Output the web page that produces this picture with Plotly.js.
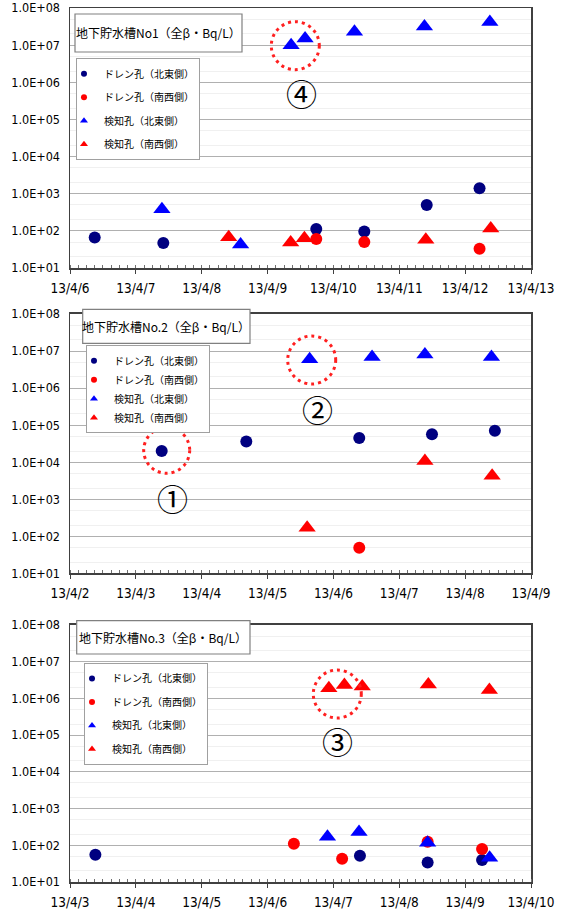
<!DOCTYPE html>
<html><head><meta charset="utf-8">
<script src="https://cdn.plot.ly/plotly-3.0.1.min.js"></script>
<style>html,body{margin:0;padding:0;background:#fff}</style>
</head><body><div id="chart" style="width:567px;height:910px"></div>
<script>
// ---- data ----
const seriesNames = ['ドレン孔（北東側）', 'ドレン孔（南西側）', '検知孔（北東側）', '検知孔（南西側）'];
const panelTitles = ['地下貯水槽No1（全β・Bq/L）', '地下貯水槽No.2（全β・Bq/L）', '地下貯水槽No.3（全β・Bq/L）'];
const yTickVals = [1e1, 1e2, 1e3, 1e4, 1e5, 1e6, 1e7, 1e8];
const yTickText = ['1.0E+01', '1.0E+02', '1.0E+03', '1.0E+04', '1.0E+05', '1.0E+06', '1.0E+07', '1.0E+08'];
const xRanges = [['2013-04-06', '2013-04-13'], ['2013-04-02', '2013-04-09'], ['2013-04-03', '2013-04-10']];

// Tank No1
const t1DrainNE_x = ['2013-04-06 09:00', '2013-04-07 10:00', '2013-04-09 17:45', '2013-04-10 11:15', '2013-04-11 10:00', '2013-04-12 05:15'];
const t1DrainNE_y = [66, 47, 113, 96, 500, 1400];
const t1DrainSW_x = ['2013-04-09 17:45', '2013-04-10 11:15', '2013-04-12 05:15'];
const t1DrainSW_y = [60, 50, 33];
const t1DetNE_x = ['2013-04-07 09:30', '2013-04-08 14:10', '2013-04-09 08:35', '2013-04-09 13:40', '2013-04-10 07:40', '2013-04-11 09:10', '2013-04-12 09:00'];
const t1DetNE_y = [380, 43, 1.0e7, 1.5e7, 2.3e7, 3.2e7, 4.2e7];
const t1DetSW_x = ['2013-04-08 09:50', '2013-04-09 08:25', '2013-04-09 13:25', '2013-04-11 09:40', '2013-04-12 09:20'];
const t1DetSW_y = [67, 49, 63, 58, 115];

// Tank No.2
const t2DrainNE_x = ['2013-04-03 09:25', '2013-04-04 16:15', '2013-04-06 09:25', '2013-04-07 11:55', '2013-04-08 10:50'];
const t2DrainNE_y = [2.0e4, 3.6e4, 4.5e4, 5.7e4, 7.1e4];
const t2DrainSW_x = ['2013-04-06 09:25'];
const t2DrainSW_y = [49];
const t2DetNE_x = ['2013-04-05 15:20', '2013-04-06 14:05', '2013-04-07 09:20', '2013-04-08 09:35'];
const t2DetNE_y = [6.0e6, 6.9e6, 8.1e6, 6.9e6];
const t2DetSW_x = ['2013-04-05 14:25', '2013-04-07 09:20', '2013-04-08 09:50'];
const t2DetSW_y = [170, 1.07e4, 4.3e3];

// Tank No.3
const t3DrainNE_x = ['2013-04-03 09:15', '2013-04-07 09:40', '2013-04-08 10:20', '2013-04-09 06:10'];
const t3DrainNE_y = [55, 52, 34, 40];
const t3DrainSW_x = ['2013-04-06 09:35', '2013-04-07 03:10', '2013-04-08 10:20', '2013-04-09 06:10'];
const t3DrainSW_y = [110, 43, 125, 79];
const t3DetNE_x = ['2013-04-06 21:50', '2013-04-07 09:20', '2013-04-08 10:20', '2013-04-09 08:55'];
const t3DetNE_y = [170, 230, 117, 46];
const t3DetSW_x = ['2013-04-06 22:20', '2013-04-07 04:00', '2013-04-07 10:30', '2013-04-08 10:35', '2013-04-09 08:50'];
const t3DetSW_y = [1.9e6, 2.3e6, 2.1e6, 2.4e6, 1.7e6];

// ---- build ----
const panels = [
  [[t1DrainNE_x, t1DrainNE_y], [t1DrainSW_x, t1DrainSW_y], [t1DetNE_x, t1DetNE_y], [t1DetSW_x, t1DetSW_y]],
  [[t2DrainNE_x, t2DrainNE_y], [t2DrainSW_x, t2DrainSW_y], [t2DetNE_x, t2DetNE_y], [t2DetSW_x, t2DetSW_y]],
  [[t3DrainNE_x, t3DrainNE_y], [t3DrainSW_x, t3DrainSW_y], [t3DetNE_x, t3DetNE_y], [t3DetSW_x, t3DetSW_y]]
];
const symbols = ['circle', 'circle', 'triangle-up', 'triangle-up'];
const colors = ['#000080', '#ff0000', '#0000ff', '#ff0000'];
const sizes = [12, 12, 15, 15];
const legendSizes = [6, 6, 7, 7];
const legendIds = ['legend', 'legend2', 'legend3'];

const traces = [];
panels.forEach((panel, p) => {
  const xa = p === 0 ? 'x' : 'x' + (p + 1);
  const ya = p === 0 ? 'y' : 'y' + (p + 1);
  panel.forEach((s, i) => {
    const grp = 'p' + p + 's' + i;
    traces.push({
      type: 'scatter', mode: 'markers', x: [null], y: [null], xaxis: xa, yaxis: ya,
      name: seriesNames[i], legend: legendIds[p], legendgroup: grp, showlegend: true,
      marker: {symbol: symbols[i], color: colors[i], size: legendSizes[i]}, hoverinfo: 'skip'
    });
    traces.push({
      type: 'scatter', mode: 'markers', x: s[0], y: s[1], xaxis: xa, yaxis: ya,
      name: seriesNames[i], legendgroup: grp, showlegend: false,
      marker: {symbol: symbols[i], color: colors[i], size: sizes[i], line: {width: 0}}
    });
  });
});

const narrow = 'Liberation Sans Narrow, DejaVu Sans Condensed, Liberation Sans, sans-serif';
const tickFont = {family: narrow, size: 12.5, color: '#000'};
const xFont = {family: narrow, size: 13.5, color: '#000'};
const jpFont = 'Noto Sans CJK JP, Noto Sans, sans-serif';

// figure geometry (pixels) -> paper fractions for decorations
const M = {l: 70, r: 36, t: 8, b: 28};
const plotW = 567 - M.l - M.r, plotH = 910 - M.t - M.b;
const px = v => (v - M.l) / plotW;
const py = v => (910 - M.b - v) / plotH;

const domains = [[0.7025, 1.0], [0.3532, 0.6499], [0.0, 0.2941]];
const layout = {
  width: 567, height: 910, margin: M,
  paper_bgcolor: '#fff', plot_bgcolor: '#fff',
  showlegend: true, annotations: [], shapes: []
};
for (let p = 0; p < 3; p++) {
  const sfx = p === 0 ? '' : String(p + 1);
  layout['xaxis' + sfx] = {
    type: 'date', range: xRanges[p], domain: [0, 1], anchor: 'y' + sfx,
    tick0: xRanges[p][0], dtick: 86400000, tickformat: '%y/%-m/%-d',
    ticks: 'outside', ticklen: 4, tickwidth: 1, tickcolor: '#404040',
    showline: true, linecolor: '#404040', linewidth: 1.5, mirror: true,
    showgrid: false, zeroline: false, tickfont: xFont, ticklabelstandoff: 3,
    minor: {dtick: 10800000, ticks: 'inside', ticklen: 3, tickcolor: '#707070', showgrid: false}
  };
  layout['yaxis' + sfx] = {
    type: 'log', range: [1, 8], domain: domains[p], anchor: 'x' + sfx,
    tickvals: yTickVals, ticktext: yTickText, ticks: '', tickfont: tickFont, ticklabelstandoff: 6,
    showline: true, linecolor: '#404040', linewidth: 1.5, mirror: true,
    showgrid: true, gridcolor: '#b0b0b0', gridwidth: 1, zeroline: false,
    minor: {showgrid: true, gridcolor: '#f0f0f0', gridwidth: 1, ticks: ''}
  };
}

// legends
const legendBase = {
  xanchor: 'left', yanchor: 'top', bgcolor: '#fff', bordercolor: '#a0a0a0', borderwidth: 1,
  font: {family: jpFont, size: 10, color: '#000'}, traceorder: 'grouped', itemwidth: 30,
  indentation: -13, itemclick: false, itemdoubleclick: false
};
layout.legend = Object.assign({}, legendBase, {x: 0.013, y: 0.9425, tracegroupgap: 4.5});
layout.legend2 = Object.assign({}, legendBase, {x: 0.0347, y: 0.614, tracegroupgap: 0});
layout.legend3 = Object.assign({}, legendBase, {x: 0.0304, y: 0.2506, tracegroupgap: 4.5});

// title boxes (pixel rectangles) with centred text
const titleBoxes = [[75, 14, 242, 52], [82.7, 309.3, 250, 343.3], [76.7, 620.7, 250, 654]];
titleBoxes.forEach((b, p) => {
  layout.shapes.push({
    type: 'rect', xref: 'paper', yref: 'paper', x0: px(b[0]), x1: px(b[2]), y0: py(b[3]), y1: py(b[1]),
    line: {color: '#808080', width: 1.2}, fillcolor: '#fff', layer: 'above'
  });
  layout.annotations.push({
    xref: 'paper', yref: 'paper', x: px((b[0] + b[2]) / 2), y: py((b[1] + b[3]) / 2),
    xanchor: 'center', yanchor: 'middle', text: panelTitles[p], showarrow: false,
    font: {family: jpFont, size: 12, color: '#000'}
  });
});

// highlight circles (dotted, pixel geometry) and circled-number labels
const marks = [
  {cx: 295.3, cy: 45.7, r: 24, lx: 301, ly: 93, label: '④'},
  {cx: 311.7, cy: 360, r: 24, lx: 317.7, ly: 408.3, label: '②'},
  {cx: 166.7, cy: 450.3, r: 23, lx: 172, ly: 497.3, label: '①'},
  {cx: 337.3, cy: 694, r: 24, lx: 337.3, ly: 740, label: '③'}
];
marks.forEach(m => {
  layout.shapes.push({
    type: 'circle', xref: 'paper', yref: 'paper',
    x0: px(m.cx - m.r), x1: px(m.cx + m.r), y0: py(m.cy + m.r), y1: py(m.cy - m.r),
    line: {color: '#ff2020', width: 3, dash: '3px,4px'}, fillcolor: 'rgba(0,0,0,0)'
  });
  layout.annotations.push({
    xref: 'paper', yref: 'paper', x: px(m.lx), y: py(m.ly), xanchor: 'center', yanchor: 'middle',
    text: m.label, showarrow: false, font: {family: jpFont, size: 31, color: '#000'}
  });
});

Plotly.newPlot('chart', traces, layout, {displayModeBar: false, staticPlot: true});
</script>
</body></html>
